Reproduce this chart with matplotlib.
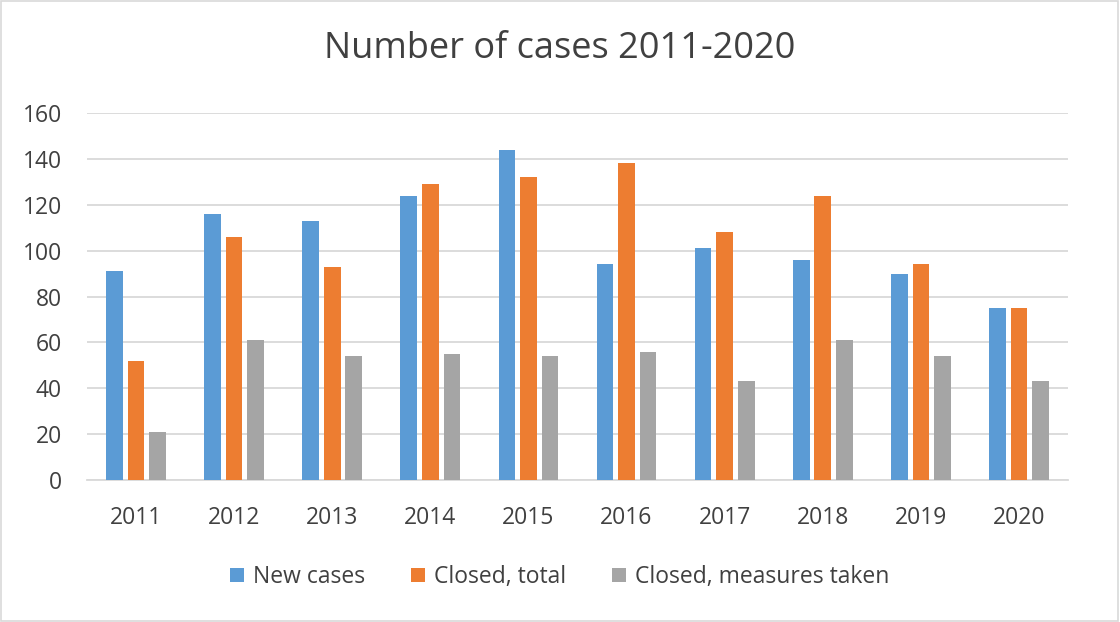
import numpy as np
import matplotlib.pyplot as plt
from matplotlib.patches import Rectangle

plt.rcParams['font.family'] = ['Open Sans', 'DejaVu Sans']

years = ['2011', '2012', '2013', '2014', '2015', '2016', '2017', '2018', '2019', '2020']
new_cases = [91, 116, 113, 124, 144, 94, 101, 96, 90, 75]
closed_total = [52, 106, 93, 129, 132, 138, 108, 124, 94, 75]
closed_measures = [21, 61, 54, 55, 54, 56, 43, 61, 54, 43]

series = [('New cases', new_cases, '#5B9BD5'),
          ('Closed, total', closed_total, '#ED7D31'),
          ('Closed, measures taken', closed_measures, '#A5A5A5')]

txt = '#404040'
grid = '#d9d9d9'

fig = plt.figure(figsize=(11.2, 6.22), dpi=100)
ax = fig.add_axes([87/1120, 1 - 480/622, (1068-87)/1120, (480-113)/622])

x = np.arange(len(years))
pitch = 0.22
width = 0.17
for i, (name, vals, col) in enumerate(series):
    ax.bar(x + (i - 1) * pitch, vals, width, color=col, label=name, zorder=3)

ax.set_xlim(-0.5, len(years) - 0.5)
ax.set_ylim(0, 160)
ax.set_yticks(range(0, 161, 20))
ax.set_xticks(x)
ax.set_xticklabels(years)
ax.yaxis.grid(True, color=grid, linewidth=1.3, zorder=0)
ax.tick_params(length=0, labelsize=16.5, colors=txt)
ax.tick_params(axis='x', pad=19)
ax.tick_params(axis='y', pad=18)
for s in ['top', 'right', 'left']:
    ax.spines[s].set_visible(False)
ax.spines['bottom'].set_color(grid)
ax.spines['bottom'].set_linewidth(1.3)

fig.text(0.5, 1 - 49/622, 'Number of cases 2011-2020', ha='center', va='center',
         fontsize=26, color=txt)

leg = fig.legend(loc='center', bbox_to_anchor=(0.5, 1 - 577/622), ncol=3, frameon=False,
                 fontsize=16.5, handlelength=0.6, handleheight=0.6, columnspacing=2.0,
                 handletextpad=0.4)
for t in leg.get_texts():
    t.set_color(txt)

fig.patches.append(Rectangle((0.001, 0.001), 0.997, 0.997, transform=fig.transFigure,
                             fill=False, edgecolor=grid, linewidth=1.2))

fig.savefig('out.png', dpi=100)
